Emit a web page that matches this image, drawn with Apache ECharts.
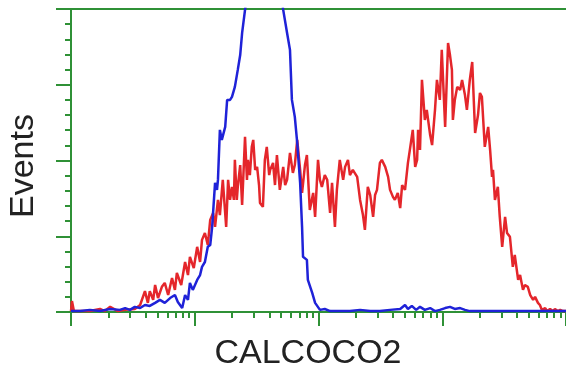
<!DOCTYPE html>
<html>
<head>
<meta charset="utf-8">
<script src="https://cdn.jsdelivr.net/npm/echarts@6/dist/echarts.min.js"></script>
<style>html,body{margin:0;padding:0;background:#fff;}#c{width:566px;height:375px;}</style>
</head>
<body>
<div id="c"></div>
<script>
// Channels: 1024 channels across 4 log decades
const xTitle = 'CALCOCO2';
const yTitle = 'Events';
const decadeChannels = [0, 256, 512, 768, 1024];
const minorMultipliers = [2, 3, 4, 5, 6, 7, 8, 9];

const redChannel = [0,2,6,19,39,60,70,81,97,112,132,143,153,159,163,170,174,180,188,194,201,209,215,219,228,236,242,246,254,261,267,271,277,283,288,294,298,304,308,314,321,325,329,333,337,339,343,345,350,354,360,364,366,370,374,377,381,385,389,391,397,401,405,410,412,418,422,426,432,439,443,447,453,459,463,468,474,478,484,488,494,501,505,511,515,519,525,530,536,540,546,550,556,563,567,573,577,583,592,598,604,608,614,619,625,629,633,639,643,650,656,660,666,670,676,681,685,691,697,701,707,712,716,718,722,726,732,736,743,747,753,757,763,767,774,780,784,788,790,794,799,805,809,815,819,825,830,836,842,846,850,856,863,867,871,873,877,883,887,892,898,902,908,914,918,925,929,935,939,945,950,956,960,966,970,974,981,985,991,997,1001,1007,1012,1018,1024];
const redEvents = [0.3,3.6,0.3,0.3,0.3,1.0,0.3,1.7,0.3,0.7,1.0,2.3,6.9,3.0,6.9,4.0,8.9,4.6,8.3,9.6,5.6,11.2,7.3,12.9,8.9,16.5,12.2,18.2,14.5,21.5,16.5,23.8,26.1,22.1,30.4,32.7,28.1,37.0,32.0,43.6,28.1,43.6,37.0,41.3,37.0,50.2,37.0,41.3,48.5,35.3,57.8,43.6,50.2,45.2,54.5,56.8,46.9,47.9,41.9,36.0,34.7,50.2,54.5,45.2,46.9,49.2,41.9,51.8,40.3,47.9,41.9,43.6,52.5,45.9,48.5,56.8,46.9,39.3,48.5,51.8,33.7,39.3,31.4,50.2,43.6,41.3,45.2,43.6,32.7,42.6,28.1,40.3,50.2,43.6,47.9,50.2,45.2,46.9,44.6,37.0,32.0,27.1,41.3,38.6,31.4,38.6,40.3,49.2,50.2,47.9,44.6,40.3,38.0,37.0,39.3,34.3,41.9,40.3,49.2,53.5,60.1,47.9,50.2,60.1,53.5,76.6,63.4,66.7,58.4,55.1,66.7,76.6,70.0,86.5,61.1,88.8,84.8,79.9,63.4,70.0,74.3,73.3,76.6,71.6,66.7,76.6,82.5,59.1,65.0,72.3,71.0,54.5,61.1,53.5,44.6,46.9,37.0,41.3,31.4,21.5,31.4,26.1,24.8,14.9,18.8,10.6,12.2,7.3,8.9,8.3,5.6,4.0,5.0,3.0,2.3,0.7,1.3,0.3,1.0,0.3,1.0,0.3,0.7,0.3,0.3];

const blueChannel = [0,19,39,60,81,101,112,122,132,143,153,163,174,184,194,205,215,221,230,236,242,246,252,261,267,271,277,283,288,292,298,302,304,308,312,319,323,329,333,339,345,350,354,360,381,401,422,439,447,453,457,463,468,474,478,480,488,490,499,505,515,525,536,556,577,598,619,639,660,681,691,697,705,714,722,732,743,753,763,774,784,794,805,815,825,846,867,887,929,970,1024];
const blueEvents = [0.3,0.3,0.7,0.3,1.0,0.7,1.3,0.7,1.7,1.3,2.3,2.0,3.0,4.0,3.0,4.6,5.6,3.3,1.3,5.6,4.0,9.6,7.3,10.6,12.2,14.9,16.5,21.5,22.1,28.1,42.6,40.3,43.6,60.1,56.8,61.1,70.0,70.0,71.0,74.3,79.9,84.8,92.1,99.7,122.8,129.4,119.5,99.7,92.1,86.5,70.0,64.4,55.8,42.6,28.1,18.2,17.2,10.6,6.3,3.0,0.7,1.0,0.3,0.3,0.3,0.7,0.3,0.3,0.7,1.0,2.3,1.0,2.0,0.7,1.7,0.7,1.3,0.3,0.7,1.3,1.7,1.0,1.3,0.7,0.3,0.3,0.3,0.3,0.3,0.3,0.3];

const green = '#2f9136';
const zip = (a, b) => a.map((v, i) => [v, b[i]]);

const minorTicks = [];
for (let d = 0; d < decadeChannels.length - 1; d++) {
  const step = decadeChannels[d + 1] - decadeChannels[d];
  minorMultipliers.forEach(k => minorTicks.push(decadeChannels[d] + step * Math.log10(k)));
}

const chart = echarts.init(document.getElementById('c'), null, {renderer: 'canvas'});
chart.setOption({
  animation: false,
  backgroundColor: '#ffffff',
  grid: {left: 71, right: 0, top: 9, bottom: 63, containLabel: false},
  xAxis: [
    {
      type: 'value', min: 0, max: 1024, position: 'bottom',
      axisLine: {show: true, lineStyle: {color: green, width: 2}},
      axisTick: {show: true, customValues: decadeChannels, length: 14, inside: false, lineStyle: {color: green, width: 2}},
      axisLabel: {show: false}, splitLine: {show: false}
    },
    {
      type: 'value', min: 0, max: 1024, position: 'bottom',
      axisLine: {show: false},
      axisTick: {show: true, customValues: minorTicks, length: 6, inside: false, lineStyle: {color: green, width: 2}},
      axisLabel: {show: false}, splitLine: {show: false}
    },
    {
      type: 'value', min: 0, max: 1024, position: 'top',
      axisLine: {show: true, lineStyle: {color: green, width: 2}},
      axisTick: {show: false}, axisLabel: {show: false}, splitLine: {show: false}
    }
  ],
  yAxis: {
    type: 'value', min: 0, max: 100, interval: 25,
    axisLine: {show: true, lineStyle: {color: green, width: 2}},
    axisTick: {show: true, length: 15, inside: false, lineStyle: {color: green, width: 2}},
    minorTick: {show: true, splitNumber: 5, length: 6, lineStyle: {color: green, width: 2}},
    axisLabel: {show: false}, splitLine: {show: false}, minorSplitLine: {show: false}
  },
  graphic: [
    {type: 'text', x: 24, y: 166, rotation: Math.PI / 2,
     style: {text: yTitle, font: '34px "Liberation Sans", Arial, sans-serif', fill: '#222', textAlign: 'center', textVerticalAlign: 'middle'}},
    {type: 'text', x: 308, y: 354,
     style: {text: xTitle, font: '34px "Liberation Sans", Arial, sans-serif', fill: '#222', textAlign: 'center', textVerticalAlign: 'middle'}}
  ],
  series: [
    {type: 'line', xAxisIndex: 0, data: zip(redChannel, redEvents), showSymbol: false, symbol: 'none',
     lineStyle: {color: '#e4262b', width: 2.5}, clip: true, z: 3},
    {type: 'line', xAxisIndex: 0, data: zip(blueChannel, blueEvents), showSymbol: false, symbol: 'none',
     lineStyle: {color: '#1f22d8', width: 2.5}, clip: true, z: 4}
  ]
});
</script>
</body>
</html>
